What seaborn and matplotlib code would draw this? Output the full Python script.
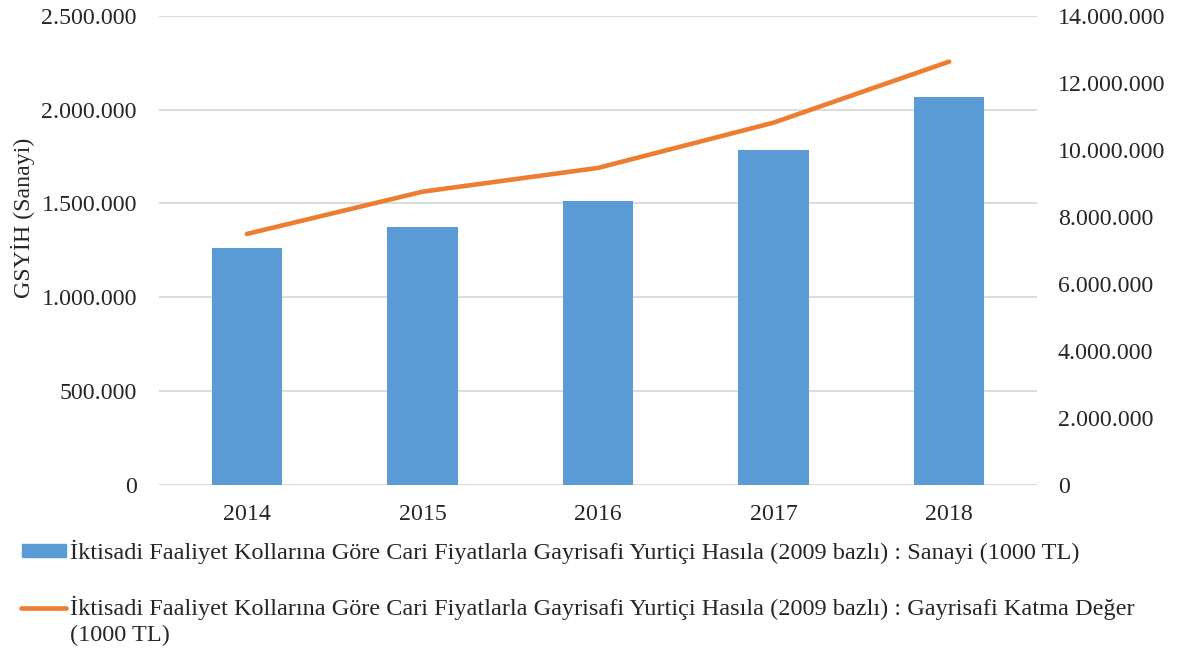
import matplotlib
matplotlib.use("Agg")
import matplotlib.pyplot as plt
import seaborn as sns
from matplotlib.ticker import FuncFormatter, MultipleLocator
from matplotlib.patches import Rectangle
from matplotlib.lines import Line2D

# data (1000 TL)
years = ["2014", "2015", "2016", "2017", "2018"]
sanayi = [1263000, 1375000, 1514000, 1786000, 2068000]
katma_deger = [7490000, 8750000, 9460000, 10810000, 12630000]

label_bar = "İktisadi Faaliyet Kollarına Göre Cari Fiyatlarla Gayrisafi Yurtiçi Hasıla (2009 bazlı) : Sanayi (1000 TL)"
label_line_1 = "İktisadi Faaliyet Kollarına Göre Cari Fiyatlarla Gayrisafi Yurtiçi Hasıla (2009 bazlı) : Gayrisafi Katma Değer"
label_line_2 = "(1000 TL)"

BLUE = "#5B9BD5"
ORANGE = "#ED7D31"
FS = 17.2
FS_LEG = 17.5

sns.set_theme(style="white")
plt.rcParams["font.family"] = ["Liberation Serif", "DejaVu Serif"]


def dotted(v, pos):
    return f"{v:,.0f}".replace(",", ".")


def main():
    fig = plt.figure(figsize=(11.83, 6.55), dpi=100)
    ax = fig.add_axes([0.1345, 0.2595, 0.7420, 0.7165])

    sns.barplot(x=years, y=sanayi, color=BLUE, width=0.4, linewidth=0, saturation=1, ax=ax)
    ax.set_ylim(0, 2500000)
    ax.yaxis.set_major_locator(MultipleLocator(500000))
    ax.yaxis.set_major_formatter(FuncFormatter(dotted))
    ax.grid(axis="y", color="#D9D9D9", linewidth=1.3)
    ax.set_axisbelow(True)
    ax.set_ylabel("GSYİH (Sanayi)", fontsize=FS)
    ax.yaxis.set_label_coords(-0.141, 0.569)
    ax.tick_params(axis="both", length=0, labelsize=FS)
    ax.tick_params(axis="y", pad=16)
    ax.tick_params(axis="x", pad=14)

    ax2 = ax.twinx()
    sns.lineplot(x=years, y=katma_deger, color=ORANGE, linewidth=3.3, sort=False, ax=ax2)
    ax2.set_ylim(0, 14000000)
    ax2.yaxis.set_major_locator(MultipleLocator(2000000))
    ax2.yaxis.set_major_formatter(FuncFormatter(dotted))
    ax2.tick_params(axis="y", length=0, labelsize=FS, pad=15)
    ax2.set_ylabel("")
    ax2.grid(False)
    # the line plot adds x margins; keep categories evenly spaced like the bars
    ax.set_xlim(-0.5, len(years) - 0.5)

    for a in (ax, ax2):
        for s in a.spines.values():
            s.set_visible(False)

    # legend drawn below the plot, left aligned
    W, H = 1183.0, 655.0
    fig.patches.append(Rectangle((22 / W, 1 - 557 / H), 44 / W, 13 / H,
                                 transform=fig.transFigure, color=BLUE))
    fig.lines.append(Line2D([21 / W, 66 / W], [1 - 608 / H, 1 - 608 / H],
                            transform=fig.transFigure, color=ORANGE, linewidth=3.3,
                            solid_capstyle="round"))
    fig.text(70 / W, 1 - 552 / H, label_bar, fontsize=FS_LEG, va="center", ha="left")
    fig.text(70 / W, 1 - 608 / H, label_line_1, fontsize=FS_LEG, va="center", ha="left")
    fig.text(70 / W, 1 - 635 / H, label_line_2, fontsize=FS_LEG, va="center", ha="left")

    fig.savefig("out.png", dpi=100)


if __name__ == "__main__":
    main()
